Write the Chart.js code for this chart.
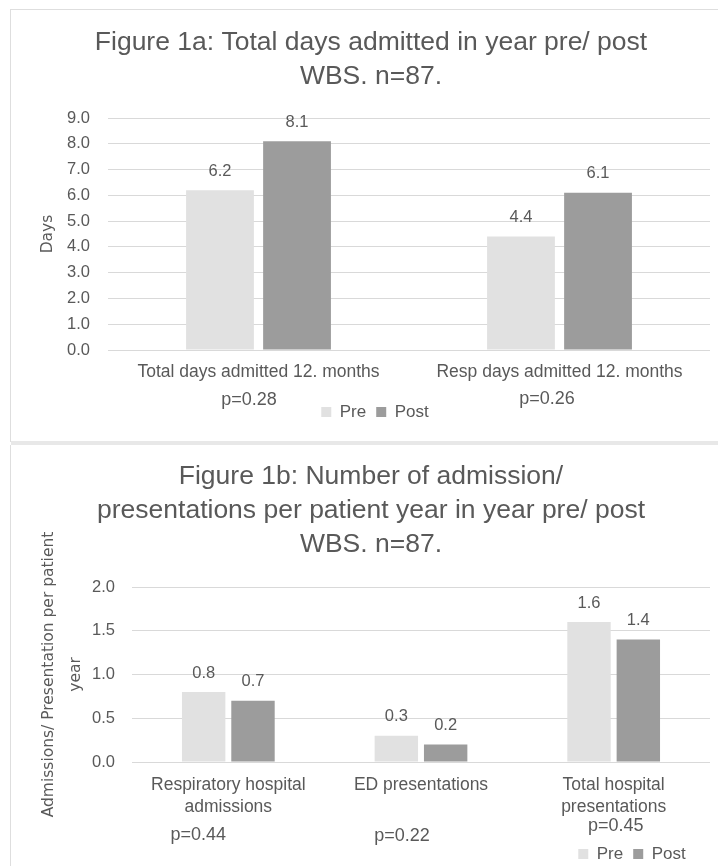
<!DOCTYPE html>
<html>
<head>
<meta charset="utf-8">
<script src="https://cdn.jsdelivr.net/npm/chart.js@4/dist/chart.umd.min.js"></script>
<style>
  html, body { margin: 0; padding: 0; background: #fff; width: 718px; height: 866px; overflow: hidden; }
  .panel { position: absolute; left: 10px; width: 740px; border-left: 1px solid #dedede; }
  #panel1 { top: 9px; height: 432px; border-top: 1px solid #dedede; }
  #divider { position: absolute; left: 11px; top: 441px; width: 740px; height: 4px; background: #e8e8e8; }
  #panel2 { top: 445px; height: 440px; }
  canvas { position: absolute; left: 0; top: 0; }
</style>
</head>
<body>
<div class="panel" id="panel1"><canvas id="daysChart" width="720" height="431"></canvas></div>
<div id="divider"></div>
<div class="panel" id="panel2"><canvas id="rateChart" width="720" height="440"></canvas></div>

<script>
// ---- Figure 1a: days admitted ----
const seriesNames = ['Pre', 'Post'];
const daysCategories = ['Total days admitted 12. months', 'Resp days admitted 12. months'];
const daysPre = [6.2, 4.4];
const daysPost = [8.1, 6.1];
const daysPValues = ['p=0.28', 'p=0.26'];
const daysTitle = ['Figure 1a: Total days admitted in year pre/ post', 'WBS. n=87.'];
const daysAxisTitle = 'Days';

// ---- Figure 1b: admissions / presentations per patient year ----
const rateCategories = [['Respiratory hospital', 'admissions'], 'ED presentations', ['Total hospital', 'presentations']];
const ratePre = [0.8, 0.3, 1.6];
const ratePost = [0.7, 0.2, 1.4];
const ratePValues = ['p=0.44', 'p=0.22', 'p=0.45'];
const rateTitle = ['Figure 1b: Number of admission/', 'presentations per patient year in year pre/ post', 'WBS. n=87.'];
const rateAxisTitle = ['Admissions/ Presentation per patient', 'year'];

// ---- shared styling ----
const FONT = "'Liberation Sans', Arial, sans-serif";
const AXIS_FONT = "'DejaVu Sans', Verdana, sans-serif";
const TEXT = '#595959';
const GRID = '#d9d9d9';
const PRE_COLOR = '#e1e1e1';
const POST_COLOR = '#9c9c9c';

// value printed above each bar
const valueLabels = {
  id: 'valueLabels',
  afterDatasetsDraw(chart, args, opts) {
    const ctx = chart.ctx;
    ctx.save();
    ctx.font = opts.size + 'px ' + FONT;
    ctx.fillStyle = TEXT;
    ctx.textAlign = 'center';
    ctx.textBaseline = 'middle';
    chart.data.datasets.forEach((ds, i) => {
      chart.getDatasetMeta(i).data.forEach((bar, j) => {
        ctx.fillText(ds.data[j].toFixed(1), bar.x, bar.y - opts.gap);
      });
    });
    ctx.restore();
  }
};

// p-value notes under each category
const pValueNotes = {
  id: 'pValueNotes',
  afterDraw(chart, args, opts) {
    const ctx = chart.ctx;
    const xs = chart.scales.x;
    ctx.save();
    ctx.font = opts.size + 'px ' + FONT;
    ctx.fillStyle = TEXT;
    ctx.textAlign = 'center';
    ctx.textBaseline = 'middle';
    opts.texts.forEach((t, i) => {
      ctx.fillText(t, xs.getPixelForValue(i) + opts.dx[i], chart.chartArea.bottom + opts.dy[i]);
    });
    ctx.restore();
  }
};

// slide the legend sideways within its row
const legendNudge = {
  id: 'legendNudge',
  afterLayout(chart, args, opts) {
    if (chart.legend) {
      chart.legend.left += opts.shift;
      chart.legend.right += opts.shift;
    }
  }
};

function buildChart(canvasId, cfg) {
  return new Chart(document.getElementById(canvasId), {
    type: 'bar',
    data: {
      labels: cfg.categories,
      datasets: [
        { label: seriesNames[0], data: cfg.pre, backgroundColor: PRE_COLOR, categoryPercentage: 0.512, barPercentage: 0.88 },
        { label: seriesNames[1], data: cfg.post, backgroundColor: POST_COLOR, categoryPercentage: 0.512, barPercentage: 0.88 }
      ]
    },
    options: {
      responsive: false,
      animation: false,
      devicePixelRatio: 1,
      layout: { padding: { left: 21, right: 21, top: 0, bottom: cfg.bottomPad } },
      scales: {
        x: {
          grid: { display: false, drawTicks: false },
          border: { display: false },
          ticks: {
            color: TEXT, font: { family: FONT, size: 17.5, lineHeight: 22 / 17.5 },
            padding: cfg.xPad, maxRotation: 0, autoSkip: false
          },
          afterFit(s) { s.height = cfg.xHeight; }
        },
        y: {
          min: 0, max: cfg.max,
          grid: { color: GRID, lineWidth: 1, drawTicks: false },
          border: { display: false },
          ticks: {
            stepSize: cfg.step, color: TEXT, padding: cfg.yPad,
            font: { family: FONT, size: 16.5 },
            callback: v => Number(v).toFixed(1)
          },
          title: {
            display: true, text: cfg.axisTitle, color: TEXT,
            font: { family: AXIS_FONT, size: 15.5, lineHeight: cfg.axisLine },
            padding: { top: cfg.axisTitlePad, bottom: 0 }
          },
          afterFit(s) { s.width = cfg.yWidth; }
        }
      },
      plugins: {
        title: {
          display: true, text: cfg.title, color: TEXT,
          font: { family: FONT, size: 26.5, weight: 'normal', lineHeight: 34 / 26.5 },
          padding: cfg.titlePad
        },
        legend: {
          position: 'bottom',
          labels: { color: TEXT, boxWidth: 10, boxHeight: 10, padding: 10, font: { family: FONT, size: 17 } }
        },
        tooltip: { enabled: false },
        valueLabels: { size: 16.5, gap: 19 },
        pValueNotes: { texts: cfg.pValues, dx: cfg.pdx, dy: cfg.pdy, size: 18 },
        legendNudge: { shift: cfg.legendShift }
      }
    },
    plugins: [valueLabels, pValueNotes, legendNudge]
  });
}

buildChart('daysChart', {
  categories: daysCategories, pre: daysPre, post: daysPost, pValues: daysPValues,
  title: daysTitle, axisTitle: daysAxisTitle,
  max: 9, step: 1,
  titlePad: { top: 16, bottom: 24 },
  bottomPad: 10.5, xHeight: 43.5, xPad: 11,
  yWidth: 76, yPad: 18, axisTitlePad: 6.7, axisLine: 1.2,
  pdx: [-9.5, -12.5], pdy: [50, 49],
  legendShift: 4
});

buildChart('rateChart', {
  categories: rateCategories, pre: ratePre, post: ratePost, pValues: ratePValues,
  title: rateTitle, axisTitle: rateAxisTitle,
  max: 2, step: 0.5,
  titlePad: { top: 15, bottom: 25 },
  bottomPad: 12.5, xHeight: 73.5, xPad: 12,
  yWidth: 100, yPad: 17, axisTitlePad: 3.5, axisLine: 27 / 15.5,
  pdx: [-30, -19, 2], pdy: [73, 74, 64],
  legendShift: 261
});
</script>
</body>
</html>
